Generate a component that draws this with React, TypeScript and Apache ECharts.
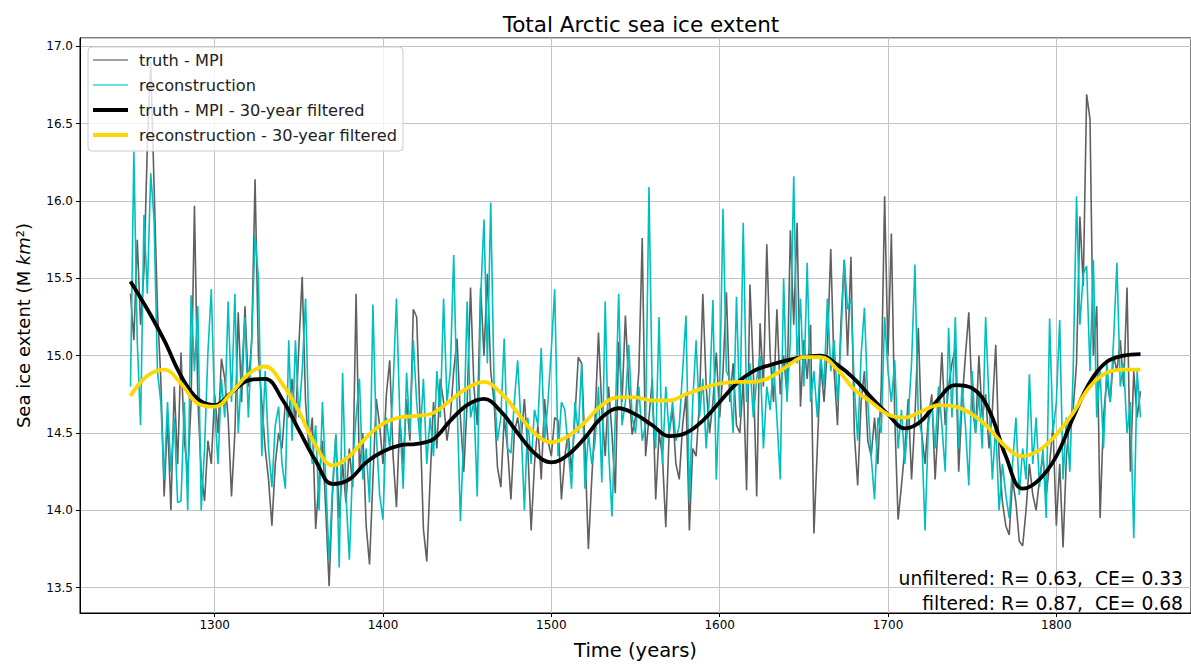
import React, { useEffect, useRef } from 'react';
import * as echarts from 'echarts';

const FONT = "'DejaVu Sans', 'Liberation Sans', sans-serif";

// annual-ish raw series (every 2 years from 1250)
const RAW_START = 1250;
const RAW_STEP = 2;
const truthRaw = [
  15.40, 15.10, 15.75, 15.20, 15.55,
  16.35, 16.90, 16.10, 15.30, 14.85,
  14.09, 14.60, 14.00, 14.80, 14.30,
  15.02, 14.45, 14.23, 14.70, 15.97,
  14.72, 14.25, 14.06, 14.45, 14.30,
  14.75, 14.50, 14.98, 14.85, 14.60,
  14.09, 14.50, 15.28, 14.70, 15.32,
  14.80, 15.10, 16.14, 15.00, 14.70,
  14.40, 14.20, 13.90, 14.30, 14.50,
  14.40, 14.70, 14.60, 14.85, 14.55,
  15.06, 15.51, 14.70, 14.40, 14.60,
  13.88, 14.20, 14.45, 14.00, 13.51,
  14.10, 14.49, 13.95, 14.30, 14.05,
  14.40, 14.15, 15.40, 14.25, 14.50,
  13.90, 13.65, 14.20, 14.72, 14.55,
  14.30, 14.75, 14.97, 14.35, 14.02,
  14.60, 14.30, 14.72, 14.45, 15.30,
  15.25, 14.60, 13.88, 13.67, 14.20,
  14.70, 14.40, 14.85, 14.70, 14.45,
  14.60, 14.90, 15.11, 14.60, 14.25,
  14.70, 15.44, 14.80, 14.55, 15.44,
  15.00, 15.53, 14.90, 14.70, 14.28,
  14.15, 14.60, 14.40, 14.07, 14.50,
  14.60, 14.45, 14.72, 14.40, 13.87,
  14.30, 14.55, 14.20, 14.72, 14.45,
  14.35, 14.60, 14.58, 14.07, 14.35,
  14.50, 14.25, 14.60, 14.99, 14.95,
  14.40, 13.75, 14.20, 14.60, 15.15,
  14.65, 14.35, 14.80, 14.50, 14.11,
  15.09, 14.70, 15.26, 14.80, 14.49,
  14.60, 14.90, 15.76, 14.35, 14.60,
  14.85, 14.07, 14.50, 14.35, 13.89,
  14.50, 14.65, 14.30, 14.20, 14.55,
  14.75, 13.87, 14.40, 14.35, 14.70,
  15.40, 14.80, 14.50, 14.70, 15.02,
  14.60, 14.90, 15.41, 14.70, 14.95,
  14.55, 14.50, 14.85, 14.13, 15.46,
  14.90, 14.09, 15.21, 14.80, 15.72,
  15.00, 14.70, 15.30, 14.75, 15.00,
  14.75, 15.81, 15.20, 15.86, 14.67,
  15.10, 14.85, 15.20, 13.85, 14.40,
  14.95, 14.70, 15.05, 15.69, 14.90,
  14.55, 15.20, 15.62, 15.00, 15.64,
  14.50, 14.16, 14.70, 14.90, 14.45,
  14.35, 14.60, 14.30, 14.80, 16.03,
  15.00, 15.79, 14.60, 13.94, 14.16,
  14.40, 14.72, 14.20, 14.60, 15.18,
  14.50, 14.30, 14.60, 14.75, 14.20,
  14.60, 15.02, 14.55, 14.80, 14.95,
  15.05, 14.25, 14.70, 15.00, 15.28,
  14.70, 14.50, 15.00, 14.60, 14.75,
  14.40, 14.65, 15.07, 14.35, 14.05,
  13.90, 13.84, 14.20, 14.05, 13.80,
  13.77, 14.00, 14.30, 14.10, 14.00,
  14.20, 14.35, 14.10, 14.30, 14.55,
  13.90, 14.30, 13.76, 14.35, 14.60,
  14.65, 14.95, 15.90, 15.45, 16.69,
  16.53, 15.00, 15.32, 13.95, 14.60,
  14.85, 14.70, 15.00, 14.90, 15.10,
  14.80, 15.44, 14.25, 14.90, 14.60,
  14.77,
];
const reconRaw = [
  14.80, 16.32, 15.10, 14.55, 15.91,
  15.40, 16.18, 15.88, 14.90, 14.70,
  14.20, 14.70, 14.25, 14.60, 14.05,
  14.06, 14.70, 14.00, 15.39, 14.90,
  15.32, 14.00, 14.40, 15.02, 15.43,
  14.65, 14.30, 14.85, 14.60, 15.35,
  14.70, 15.40, 14.50, 14.90, 15.25,
  14.60, 15.10, 15.78, 15.50, 14.35,
  14.90, 14.40, 14.15, 14.55, 14.67,
  14.30, 14.14, 15.10, 14.45, 15.10,
  14.60, 14.90, 15.37, 14.50, 14.30,
  14.55, 14.00, 14.70, 14.20, 13.67,
  14.15, 14.49, 13.63, 14.89, 14.10,
  13.68, 14.30, 14.60, 14.85, 14.20,
  14.40, 14.05, 15.33, 14.50, 14.10,
  13.94, 14.60, 14.40, 14.80, 15.37,
  14.60, 14.14, 14.89, 14.50, 15.10,
  14.70, 14.45, 14.85, 14.30, 14.60,
  14.35, 14.90, 14.60, 15.37, 14.70,
  14.90, 15.65, 14.70, 13.93, 14.50,
  15.35, 14.60, 14.70, 14.09, 15.37,
  15.88, 14.95, 15.99, 14.80, 14.45,
  14.60, 15.11, 14.40, 14.37, 14.70,
  14.97, 14.55, 14.00, 14.60, 14.30,
  14.65, 14.55, 15.05, 14.45, 14.70,
  15.04, 15.43, 14.35, 14.70, 14.65,
  14.40, 14.14, 14.70, 14.50, 14.95,
  14.14, 14.50, 14.30, 14.45, 14.80,
  14.18, 15.35, 14.40, 13.96, 14.60,
  15.40, 14.55, 14.70, 15.07, 14.60,
  14.50, 14.80, 14.45, 14.55, 16.09,
  14.70, 14.40, 15.25, 14.30, 14.80,
  14.50, 14.70, 14.45, 14.55, 14.90,
  15.26, 14.06, 14.70, 15.10, 14.60,
  14.85, 14.40, 14.75, 15.36, 14.20,
  14.80, 15.95, 14.90, 14.85, 14.50,
  15.38, 14.60, 15.86, 14.70, 14.95,
  14.60, 14.85, 15.00, 14.40, 14.80,
  14.65, 14.95, 14.60, 14.20, 15.50,
  14.70, 15.10, 16.16, 14.95, 15.37,
  14.80, 15.60, 14.70, 14.90, 14.60,
  15.00, 14.80, 15.37, 14.90, 15.10,
  14.70, 15.10, 15.62, 15.30, 15.37,
  14.80, 14.45, 15.00, 15.31, 14.70,
  14.35, 14.07, 14.60, 14.50, 15.25,
  14.90, 14.70, 14.97, 14.40, 14.65,
  14.30, 14.60, 14.95, 15.59, 14.60,
  14.50, 13.87, 14.55, 14.70, 14.40,
  14.80, 14.55, 14.25, 15.18, 14.60,
  15.25, 14.40, 14.80, 14.55, 14.16,
  14.90, 14.50, 14.75, 14.40, 15.25,
  14.70, 14.20, 14.55, 14.00, 14.30,
  14.10, 13.95, 14.30, 14.60, 14.10,
  14.40, 14.20, 14.88, 14.30, 14.60,
  14.15, 14.40, 13.95, 15.24, 14.50,
  14.70, 15.23, 14.20, 14.60, 14.25,
  14.90, 16.03, 15.20, 15.53, 15.58,
  14.90, 15.62, 14.60, 14.90, 14.40,
  14.95, 14.70, 15.10, 15.60, 14.80,
  14.95, 14.50, 14.70, 13.82, 14.90,
  14.60,
];

// 30-year filtered series (every 10 years from 1250)
const FILT_START = 1250;
const FILT_STEP = 10;
const truthFiltered = [
  15.48, 15.30, 15.10, 14.87, 14.72, 14.68, 14.76, 14.84, 14.85, 14.72,
  14.52, 14.32, 14.17, 14.20, 14.31, 14.38, 14.42, 14.43, 14.46, 14.58,
  14.68, 14.72, 14.64, 14.50, 14.37, 14.31, 14.36, 14.47, 14.60, 14.66,
  14.62, 14.55, 14.48, 14.50, 14.58, 14.70, 14.82, 14.90, 14.94, 14.97,
  14.99, 15.00, 14.94, 14.85, 14.73, 14.62, 14.53, 14.58, 14.72, 14.81,
  14.79, 14.65, 14.35, 14.14, 14.20, 14.35, 14.60, 14.83, 14.96, 15.00,
  15.01,
];
const reconFiltered = [
  14.74, 14.87, 14.91, 14.82, 14.69, 14.67, 14.76, 14.88, 14.93, 14.82,
  14.64, 14.42, 14.29, 14.35, 14.47, 14.56, 14.60, 14.61, 14.63, 14.71,
  14.79, 14.83, 14.76, 14.63, 14.50, 14.44, 14.48, 14.57, 14.68, 14.73,
  14.73, 14.71, 14.71, 14.75, 14.79, 14.82, 14.83, 14.83, 14.86, 14.93,
  14.99, 14.99, 14.91, 14.78, 14.70, 14.62, 14.60, 14.64, 14.68, 14.67,
  14.62, 14.53, 14.41, 14.35, 14.39, 14.49, 14.63, 14.80, 14.89, 14.91,
  14.91,
];

const seriesNames = [
  'truth - MPI',
  'reconstruction',
  'truth - MPI - 30-year filtered',
  'reconstruction - 30-year filtered',
];
const statsLines = ['unfiltered: R= 0.63,  CE= 0.33', 'filtered: R= 0.87,  CE= 0.68'];

const toPairs = (vals: number[], start: number, step: number) =>
  vals.map((v, i) => [start + i * step, v]);

export default function App() {
  const ref = useRef<HTMLDivElement>(null);
  useEffect(() => {
    if (!ref.current) return;
    const chart = echarts.init(ref.current, undefined, { renderer: 'svg' });
    const colors = ['#606060', '#00bfbf', '#000000', '#ffd700'];
    const widths = [1.6, 1.6, 3.8, 3.8];
    const legendColors = ['#808080', '#40cfcf', '#000000', '#ffd700'];
    const legendIcon = (w: number) => `path://M0 0h35v${w}H0z`;
    chart.setOption({
      animation: false,
      backgroundColor: '#ffffff',
      title: {
        text: 'Total Arctic sea ice extent',
        left: 636,
        top: 8,
        textAlign: 'center',
        textStyle: { fontFamily: FONT, fontSize: 21.5, fontWeight: 'normal', color: '#000' },
      },
      grid: {
        left: 80,
        right: -8,
        top: 38,
        bottom: 45,
        show: true,
        borderColor: '#000',
        borderWidth: 1,
        backgroundColor: 'transparent',
      },
      legend: {
        left: 88,
        top: 47,
        orient: 'vertical',
        itemWidth: 35,
        itemHeight: 14,
        itemGap: 9,
        padding: [5, 6, 8, 5],
        backgroundColor: 'rgba(255,255,255,0.8)',
        borderColor: '#cccccc',
        borderWidth: 1,
        borderRadius: 4,
        textStyle: { fontFamily: FONT, fontSize: 16.2, color: '#222', padding: [0, 0, 0, 6] },
        data: seriesNames.map((n, i) => ({
          name: n,
          icon: legendIcon(widths[i]),
          itemStyle: { color: legendColors[i] },
        })),
      },
      xAxis: {
        type: 'value',
        min: 1220,
        max: 1880,
        splitNumber: 5,
        name: 'Time (years)',
        nameLocation: 'middle',
        nameGap: 27,
        nameTextStyle: { fontFamily: FONT, fontSize: 19.5, color: '#000' },
        axisLine: { show: true, onZero: false, lineStyle: { color: '#000', width: 1 } },
        axisTick: { show: true, length: 4, lineStyle: { color: '#000' } },
        axisLabel: {
          fontFamily: FONT,
          fontSize: 12,
          color: '#000',
          margin: 6,
          showMinLabel: false,
          showMaxLabel: false,
          formatter: (v: number) => (v % 100 === 0 ? String(v) : ''),
        },
        splitLine: { show: true, lineStyle: { color: '#c4c4c4', width: 1 } },
      },
      yAxis: {
        type: 'value',
        min: 13.336,
        max: 17.054,
        splitNumber: 7,
        name: '{a|Sea ice extent (M }{i|km}{a|²)}',
        nameLocation: 'middle',
        nameRotate: 90,
        nameGap: 48,
        nameTextStyle: {
          fontFamily: FONT,
          fontSize: 18,
          color: '#000',
          rich: {
            a: { fontFamily: FONT, fontSize: 18, color: '#000' },
            i: { fontFamily: FONT, fontSize: 18, fontStyle: 'italic', color: '#000' },
          },
        },
        axisLine: { show: true, lineStyle: { color: '#000', width: 1 } },
        axisTick: { show: true, length: 4, lineStyle: { color: '#000' } },
        axisLabel: {
          fontFamily: FONT,
          fontSize: 12,
          color: '#000',
          margin: 7,
          showMinLabel: false,
          showMaxLabel: false,
          formatter: (v: number) =>
            Math.abs(v * 2 - Math.round(v * 2)) < 1e-6 ? v.toFixed(1) : '',
        },
        splitLine: { show: true, lineStyle: { color: '#c4c4c4', width: 1 } },
      },
      graphic: statsLines.map((t, i) => ({
        type: 'text',
        x: 1183,
        y: 578 + i * 25,
        z: 10,
        style: {
          text: t,
          fill: '#000',
          fontFamily: FONT,
          fontSize: 18.7,
          align: 'right',
          verticalAlign: 'middle',
        },
      })),
      series: [
        {
          name: seriesNames[0],
          type: 'line',
          data: toPairs(truthRaw, RAW_START, RAW_STEP),
          symbol: 'none',
          lineStyle: { color: colors[0], width: widths[0] },
          itemStyle: { color: colors[0] },
          z: 2,
        },
        {
          name: seriesNames[1],
          type: 'line',
          data: toPairs(reconRaw, RAW_START, RAW_STEP),
          symbol: 'none',
          lineStyle: { color: colors[1], width: widths[1] },
          itemStyle: { color: colors[1] },
          z: 3,
        },
        {
          name: seriesNames[2],
          type: 'line',
          data: toPairs(truthFiltered, FILT_START, FILT_STEP),
          symbol: 'none',
          smooth: 0.4,
          lineStyle: { color: colors[2], width: widths[2] },
          itemStyle: { color: colors[2] },
          z: 4,
        },
        {
          name: seriesNames[3],
          type: 'line',
          data: toPairs(reconFiltered, FILT_START, FILT_STEP),
          symbol: 'none',
          smooth: 0.4,
          lineStyle: { color: colors[3], width: widths[3] },
          itemStyle: { color: colors[3] },
          z: 5,
        },
      ],
    });
    return () => chart.dispose();
  }, []);
  return (
    <div
      ref={ref}
      style={{ position: 'absolute', left: 0, top: 0, width: 1191, height: 665, background: '#fff' }}
    />
  );
}
